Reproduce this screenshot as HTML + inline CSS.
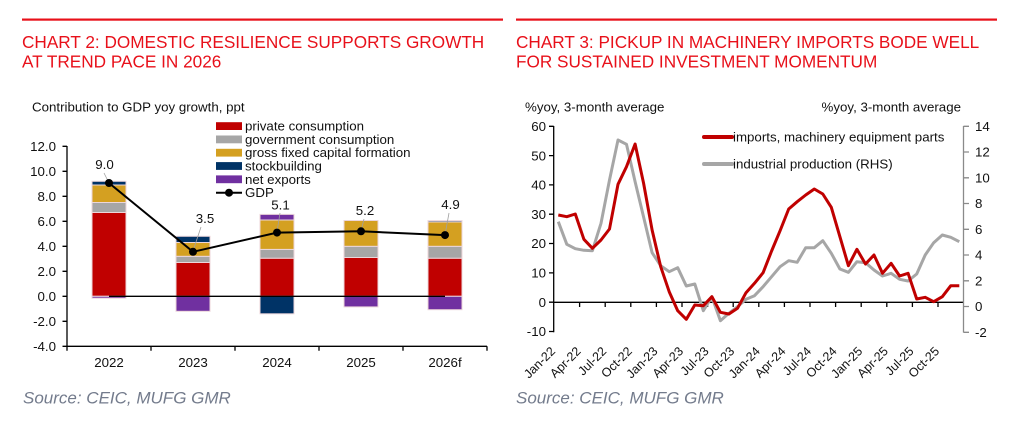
<!DOCTYPE html>
<html><head><meta charset="utf-8"><style>
html,body{margin:0;padding:0;background:#fff;}
svg{display:block;}
text{font-family:"Liberation Sans",Arial,sans-serif;}
</style></head><body>
<svg width="1019" height="434" viewBox="0 0 1019 434" xmlns="http://www.w3.org/2000/svg">
<rect width="1019" height="434" fill="#fff"/>
<!-- top rules -->
<rect x="22" y="18.5" width="481" height="2.2" fill="#e8101a"/>
<rect x="516" y="18.5" width="481" height="2.2" fill="#e8101a"/>
<!-- titles -->
<g fill="#e8101a" font-size="17.2px">
<text x="22" y="48">CHART 2: DOMESTIC RESILIENCE SUPPORTS GROWTH</text>
<text x="22" y="67.5">AT TREND PACE IN 2026</text>
<text x="516" y="48">CHART 3: PICKUP IN MACHINERY IMPORTS BODE WELL</text>
<text x="516" y="67.5">FOR SUSTAINED INVESTMENT MOMENTUM</text>
</g>
<!-- sources -->
<g fill="#737b8c" font-size="17px" font-style="italic">
<text x="23" y="403.5">Source: CEIC, MUFG GMR</text>
<text x="516" y="403.5">Source: CEIC, MUFG GMR</text>
</g>

<!-- ============ LEFT CHART ============ -->
<g font-size="13.3px" fill="#111">
<text x="32" y="111.5">Contribution to GDP yoy growth, ppt</text>
<g text-anchor="end">
<text x="56" y="151">12.0</text>
<text x="56" y="176">10.0</text>
<text x="56" y="201">8.0</text>
<text x="56" y="226">6.0</text>
<text x="56" y="251">4.0</text>
<text x="56" y="276">2.0</text>
<text x="56" y="301">0.0</text>
<text x="56" y="326">-2.0</text>
<text x="56" y="351">-4.0</text>
</g>
<g text-anchor="middle">
<text x="109" y="367">2022</text>
<text x="193" y="367">2023</text>
<text x="277" y="367">2024</text>
<text x="361" y="367">2025</text>
<text x="445" y="367">2026f</text>
</g>
</g>
<!-- bars -->
<g stroke="#ecd6da" stroke-width="1">
<!-- 2022 -->
<rect x="92" y="212.5" width="34" height="83.8" fill="#c00000"/>
<rect x="92" y="202.5" width="34" height="10" fill="#a6a6a6"/>
<rect x="92" y="185" width="34" height="17.5" fill="#d4a021"/>
<rect x="92" y="181.3" width="34" height="3.7" fill="#003366"/>
<rect x="92" y="296.3" width="34" height="1.9" fill="#7030a0"/>
<!-- 2023 -->
<rect x="176" y="262.5" width="34" height="33.8" fill="#c00000"/>
<rect x="176" y="256.3" width="34" height="6.2" fill="#a6a6a6"/>
<rect x="176" y="242.5" width="34" height="13.8" fill="#d4a021"/>
<rect x="176" y="236.3" width="34" height="6.2" fill="#003366"/>
<rect x="176" y="296.3" width="34" height="15" fill="#7030a0"/>
<!-- 2024 -->
<rect x="260" y="258.2" width="34" height="38.1" fill="#c00000"/>
<rect x="260" y="249.4" width="34" height="8.8" fill="#a6a6a6"/>
<rect x="260" y="220" width="34" height="29.4" fill="#d4a021"/>
<rect x="260" y="214.4" width="34" height="5.6" fill="#7030a0"/>
<rect x="260" y="296.3" width="34" height="17.5" fill="#003366"/>
<!-- 2025 -->
<rect x="344" y="257.5" width="34" height="38.8" fill="#c00000"/>
<rect x="344" y="246.3" width="34" height="11.2" fill="#a6a6a6"/>
<rect x="344" y="220.5" width="34" height="25.8" fill="#d4a021"/>
<rect x="344" y="296.3" width="34" height="10.6" fill="#7030a0"/>
<!-- 2026 -->
<rect x="428" y="258.2" width="34" height="38.1" fill="#c00000"/>
<rect x="428" y="246.3" width="34" height="11.9" fill="#a6a6a6"/>
<rect x="428" y="221.9" width="34" height="24.4" fill="#d4a021"/>
<rect x="428" y="220.6" width="34" height="1.3" fill="#003366"/>
<rect x="428" y="296.3" width="34" height="13.4" fill="#7030a0"/>
</g>
<!-- axes -->
<g stroke="#000" stroke-width="1.3" fill="none">
<line x1="67" y1="146" x2="67" y2="346.3"/>
<line x1="67" y1="346.3" x2="487" y2="346.3"/>
<path d="M62.5 146.3H67M62.5 171.3H67M62.5 196.3H67M62.5 221.3H67M62.5 246.3H67M62.5 271.3H67M62.5 296.3H67M62.5 321.3H67M62.5 346.3H67"/>
<path d="M67 346.3V350.8M151 346.3V350.8M235 346.3V350.8M319 346.3V350.8M403 346.3V350.8M487 346.3V350.8"/>
<line x1="109" y1="296.3" x2="445" y2="296.3"/>
</g>
<!-- leader lines -->
<g stroke="#a0a0a0" stroke-width="0.8">
<line x1="104" y1="173" x2="109" y2="183"/>
<line x1="201" y1="227" x2="193" y2="251"/>
<line x1="280" y1="213" x2="277" y2="232"/>
<line x1="364" y1="219" x2="361" y2="231"/>
<line x1="449" y1="213" x2="445" y2="235"/>
</g>
<!-- GDP line -->
<polyline points="109,183 193,251.8 277,232.6 361,231.3 445,235.1" fill="none" stroke="#000" stroke-width="2"/>
<g fill="#000">
<circle cx="109" cy="183" r="4"/>
<circle cx="193" cy="251.8" r="4"/>
<circle cx="277" cy="232.6" r="4"/>
<circle cx="361" cy="231.3" r="4"/>
<circle cx="445" cy="235.1" r="4"/>
</g>
<g font-size="13.3px" fill="#111" text-anchor="middle">
<text x="104.5" y="169">9.0</text>
<text x="205" y="223">3.5</text>
<text x="280.5" y="209.5">5.1</text>
<text x="365" y="215">5.2</text>
<text x="450.5" y="209">4.9</text>
</g>
<!-- legend -->
<rect x="216" y="122.2" width="26" height="7.8" fill="#c00000"/>
<rect x="216" y="135.5" width="26" height="7.8" fill="#a6a6a6"/>
<rect x="216" y="148.8" width="26" height="7.8" fill="#d4a021"/>
<rect x="216" y="162.1" width="26" height="7.8" fill="#003366"/>
<rect x="216" y="175.4" width="26" height="7.8" fill="#7030a0"/>
<line x1="216" y1="192.7" x2="242" y2="192.7" stroke="#000" stroke-width="2"/>
<circle cx="229" cy="192.7" r="4" fill="#000"/>
<g font-size="13.3px" fill="#111">
<text x="245" y="130.6">private consumption</text>
<text x="245" y="143.9">government consumption</text>
<text x="245" y="157.2">gross fixed capital formation</text>
<text x="245" y="170.5">stockbuilding</text>
<text x="245" y="183.8">net exports</text>
<text x="245" y="197.1">GDP</text>
</g>

<!-- ============ RIGHT CHART ============ -->
<g font-size="13.3px" fill="#111">
<text x="525" y="111.5">%yoy, 3-month average</text>
<text x="961" y="111.5" text-anchor="end">%yoy, 3-month average</text>
<g text-anchor="end">
<text x="546" y="131">60</text>
<text x="546" y="160.3">50</text>
<text x="546" y="189.6">40</text>
<text x="546" y="218.9">30</text>
<text x="546" y="248.2">20</text>
<text x="546" y="277.6">10</text>
<text x="546" y="306.9">0</text>
<text x="546" y="336.2">-10</text>
</g>
<g>
<text x="975" y="131">14</text>
<text x="975" y="156.7">12</text>
<text x="975" y="182.5">10</text>
<text x="975" y="208.2">8</text>
<text x="975" y="234">6</text>
<text x="975" y="259.7">4</text>
<text x="975" y="285.5">2</text>
<text x="975" y="311.2">0</text>
<text x="975" y="337">-2</text>
</g>
</g>
<g stroke="#000" stroke-width="1.3" fill="none">
<line x1="553.7" y1="126" x2="553.7" y2="332.3"/>
<path d="M549 126.3H553.7M549 155.6H553.7M549 184.9H553.7M549 214.2H553.7M549 243.5H553.7M549 272.9H553.7M549 302.2H553.7M549 331.5H553.7"/>
<line x1="553.7" y1="302.3" x2="963.5" y2="302.3"/>
<path d="M579.6 302.3V307M605.2 302.3V307M630.8 302.3V307M656.4 302.3V307M682 302.3V307M707.6 302.3V307M733.2 302.3V307M758.8 302.3V307M784.4 302.3V307M810 302.3V307M835.6 302.3V307M861.2 302.3V307M886.8 302.3V307M912.4 302.3V307M938 302.3V307"/>
</g>
<g stroke="#8a8a8a" stroke-width="1.3" fill="none">
<line x1="963.5" y1="126" x2="963.5" y2="332.5"/>
<path d="M963.5 126.3H969M963.5 152H969M963.5 177.8H969M963.5 203.5H969M963.5 229.3H969M963.5 255H969M963.5 280.8H969M963.5 306.5H969M963.5 332.3H969"/>
</g>
<!-- series -->
<polyline fill="none" stroke="#a6a6a6" stroke-width="3" stroke-linejoin="round" points="558.3,221.7 566.8,244.3 575.3,248.7 583.9,250.3 592.4,250.7 601.0,223.3 609.5,180.0 618.0,140.0 626.5,144.3 635.1,181.7 643.6,217.0 652.1,252.7 660.7,265.7 669.2,271.7 677.7,267.7 686.3,286.0 694.8,284.0 703.3,310.7 711.9,296.7 720.4,320.7 728.9,313.3 737.5,306.7 746.0,299.3 754.5,295.7 763.1,286.7 771.6,276.7 780.1,266.7 788.7,260.7 797.2,262.3 805.7,247.7 814.3,247.7 822.8,240.7 831.3,253.3 839.9,269.0 848.4,272.3 856.9,261.7 865.5,262.7 874.0,270.0 882.5,276.0 891.1,273.3 899.6,279.3 908.1,281.0 916.7,274.0 925.2,255.0 933.7,242.7 942.3,235.0 950.8,237.3 959.3,241.7"/>
<polyline fill="none" stroke="#c00000" stroke-width="3" stroke-linejoin="round" points="558.3,215.0 566.8,216.7 575.3,214.0 583.9,239.3 592.4,248.3 601.0,240.0 609.5,229.0 618.0,184.3 626.5,166.7 635.1,144.0 643.6,183.3 652.1,230.0 660.7,266.7 669.2,291.7 677.7,310.7 686.3,319.3 694.8,305.0 703.3,305.7 711.9,296.7 720.4,312.3 728.9,314.0 737.5,308.3 746.0,292.7 754.5,283.3 763.1,272.7 771.6,251.0 780.1,230.7 788.7,209.0 797.2,201.7 805.7,195.0 814.3,189.0 822.8,194.0 831.3,207.3 839.9,236.7 848.4,265.7 856.9,249.3 865.5,264.0 874.0,255.0 882.5,273.3 891.1,263.3 899.6,276.0 908.1,273.3 916.7,299.0 925.2,297.3 933.7,301.7 942.3,296.7 950.8,285.7 959.3,285.7"/>
<!-- right legend -->
<line x1="704" y1="137" x2="732" y2="137" stroke="#c00000" stroke-width="4" stroke-linecap="round"/>
<line x1="704" y1="164" x2="732" y2="164" stroke="#a6a6a6" stroke-width="4" stroke-linecap="round"/>
<g font-size="13.3px" fill="#111">
<text x="733" y="141.5">imports, machinery equipment parts</text>
<text x="733" y="168.5">industrial production (RHS)</text>
</g>
<!-- x labels rotated -->
<g font-size="12.5px" fill="#111" text-anchor="end">
<text transform="translate(556,352) rotate(-45)">Jan-22</text>
<text transform="translate(581.6,352) rotate(-45)">Apr-22</text>
<text transform="translate(607.2,352) rotate(-45)">Jul-22</text>
<text transform="translate(632.8,352) rotate(-45)">Oct-22</text>
<text transform="translate(658.4,352) rotate(-45)">Jan-23</text>
<text transform="translate(684,352) rotate(-45)">Apr-23</text>
<text transform="translate(709.6,352) rotate(-45)">Jul-23</text>
<text transform="translate(735.2,352) rotate(-45)">Oct-23</text>
<text transform="translate(760.8,352) rotate(-45)">Jan-24</text>
<text transform="translate(786.4,352) rotate(-45)">Apr-24</text>
<text transform="translate(812,352) rotate(-45)">Jul-24</text>
<text transform="translate(837.6,352) rotate(-45)">Oct-24</text>
<text transform="translate(863.2,352) rotate(-45)">Jan-25</text>
<text transform="translate(888.8,352) rotate(-45)">Apr-25</text>
<text transform="translate(914.4,352) rotate(-45)">Jul-25</text>
<text transform="translate(940,352) rotate(-45)">Oct-25</text>
</g>
</svg>
</body></html>
